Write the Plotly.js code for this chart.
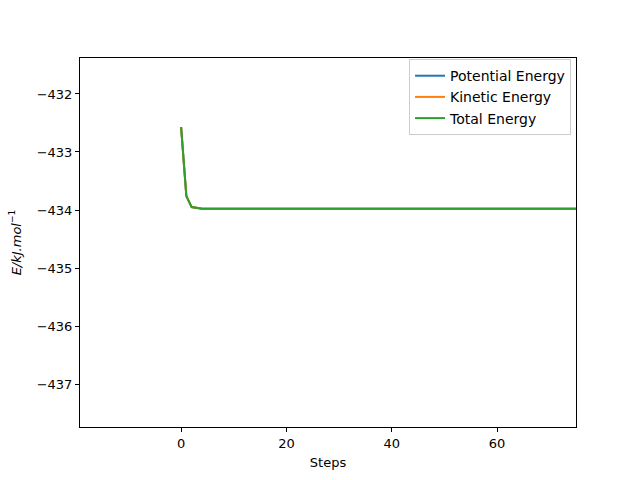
<!DOCTYPE html>
<html>
<head>
<meta charset="utf-8">
<script src="https://cdn.plot.ly/plotly-3.0.1.min.js"></script>
<style>
  html, body { margin: 0; padding: 0; background: #fff; }
  #chart { width: 640px; height: 480px; }
</style>
</head>
<body>
<div id="chart"></div>
<script>
// Energia per passo: le tre curve si sovrappongono (la verde copre le altre).
const steps = [0, 1, 2, 3, 4, 5, 6, 8, 10, 20, 30, 40, 50, 60, 70, 80];
const potential = [-432.57, -433.76, -433.95, -433.97, -433.98, -433.98, -433.98, -433.98,
                   -433.98, -433.98, -433.98, -433.98, -433.98, -433.98, -433.98, -433.98];
const kinetic = [-432.57, -433.76, -433.95, -433.97, -433.98, -433.98, -433.98, -433.98,
                 -433.98, -433.98, -433.98, -433.98, -433.98, -433.98, -433.98, -433.98];
const total = [-432.57, -433.76, -433.95, -433.97, -433.98, -433.98, -433.98, -433.98,
               -433.98, -433.98, -433.98, -433.98, -433.98, -433.98, -433.98, -433.98];

const xTicks = [0, 20, 40, 60];
const yTicks = [-437, -436, -435, -434, -433, -432];

const FONT = { family: 'DejaVu Sans', size: 13, color: '#000' };

function line(name, y, color) {
    return {
        type: 'scatter',
        mode: 'lines',
        name: name,
        x: steps,
        y: y,
        line: { color: color, width: 2 },
    };
}

const data = [
    line('Potential Energy', potential, '#1f77b4'),
    line('Kinetic Energy', kinetic, '#ff7f0e'),
    line('Total Energy', total, '#2ca02c'),
];

const axis = {
    showgrid: false,
    zeroline: false,
    showline: true,
    mirror: true,
    linecolor: '#000',
    linewidth: 1,
    ticks: 'outside',
    ticklen: 4,
    tickcolor: '#000',
    tickfont: FONT,
};

const layout = {
    width: 640,
    height: 480,
    margin: { l: 80, r: 64, t: 58, b: 53 },
    paper_bgcolor: '#fff',
    plot_bgcolor: '#fff',
    font: FONT,
    showlegend: true,
    legend: {
        x: 0.99, y: 0.997, xanchor: 'right', yanchor: 'top',
        bgcolor: 'rgba(255,255,255,0.8)',
        bordercolor: '#ccc', borderwidth: 1,
        font: { ...FONT, size: 14 },
        itemwidth: 30,
        tracegroupgap: 0,
    },
    xaxis: {
        ...axis,
        range: [-19.2, 75],
        tickvals: xTicks,
        ticktext: xTicks.map(String),
        title: { text: 'Steps', font: FONT, standoff: 8 },
    },
    yaxis: {
        ...axis,
        range: [-437.74, -431.38],
        tickvals: yTicks,
        ticktext: yTicks.map(v => '\u2212' + Math.abs(v)),
        title: { text: '<i>E/kJ.mol</i><sup>\u22121</sup>', font: FONT, standoff: 12 },
    },
};

Plotly.newPlot('chart', data, layout, { displayModeBar: false, staticPlot: true });
</script>
</body>
</html>
